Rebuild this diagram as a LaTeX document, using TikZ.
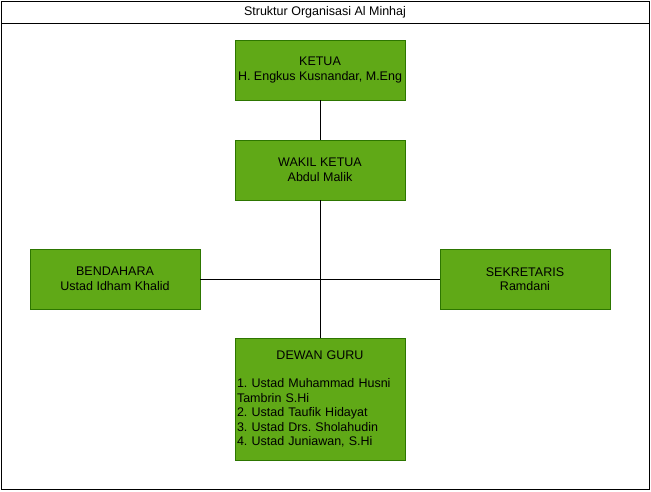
\documentclass[tikz,border=0pt]{standalone}
\usepackage{fontspec}
\setmainfont{Liberation Sans}
\usetikzlibrary{positioning}

\definecolor{daun}{HTML}{60A917}
\definecolor{daungelap}{HTML}{2D7600}

\begin{document}
\frenchspacing
\begin{tikzpicture}[x=1pt,y=-1pt,
    jabatan/.style={rectangle,draw=daungelap,fill=daun,line width=1pt,outer sep=0pt,minimum width=170pt,minimum height=60pt,inner sep=2pt,align=center,font=\fontsize{12.5}{14.5}\selectfont},
    garis/.style={draw=black,line width=1pt}]
  \useasboundingbox (0,0) rectangle (651,491);
  % frame with title bar
  \draw[line width=1pt] (1,1) rectangle (649,489);
  \draw[line width=1pt] (1,23) -- (649,23);
  \node[font=\fontsize{12.5}{14}\selectfont] (judul) at (325,12.5) {Struktur Organisasi Al Minhaj};
  % boxes
  \node[jabatan] (ketua) at (320,70) {KETUA\\H. Engkus Kusnandar, M.Eng};
  \node[jabatan,below=40pt of ketua] (wakil) {WAKIL KETUA\\Abdul Malik};
  \node[jabatan] (bendahara) at (115,279) {BENDAHARA\\Ustad Idham Khalid};
  \node[jabatan] (sekretaris) at (525,279) {SEKRETARIS\\Ramdani};
  \node[jabatan,minimum height=122pt,text width=166pt,align=left,below=138pt of wakil] (guru) {\hfill DEWAN GURU\hfill\null\\[14pt]
    1. Ustad Muhammad Husni\\Tambrin S.Hi\\2. Ustad Taufik Hidayat\\3. Ustad Drs. Sholahudin\\4. Ustad Juniawan, S.Hi};
  % connectors
  \draw[garis] (ketua.south) -- (wakil.north);
  \draw[garis] (wakil.south) -- (guru.north);
  \draw[garis] (bendahara.east) -- (sekretaris.west);
\end{tikzpicture}
\end{document}
